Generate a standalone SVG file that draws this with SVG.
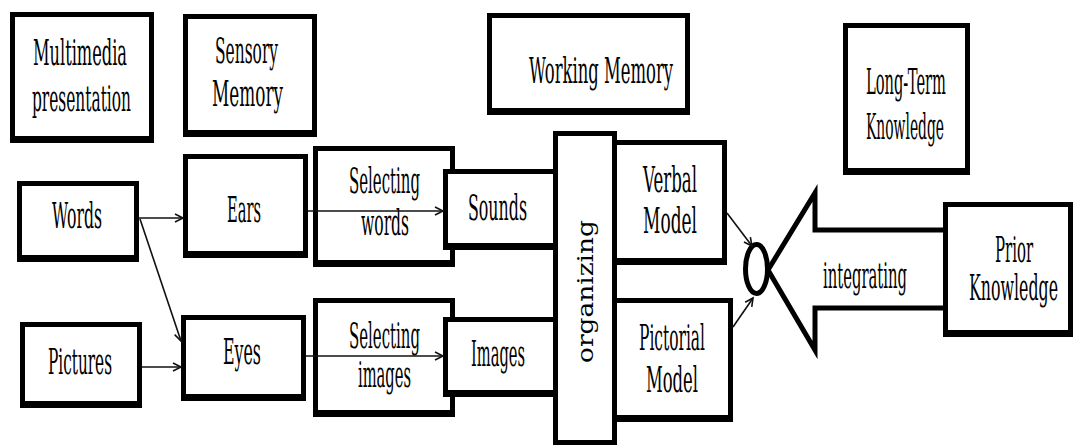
<svg xmlns="http://www.w3.org/2000/svg" width="1073" height="445" viewBox="0 0 1073 445">
  <style>
    .o { fill: #000; }
    .i { fill: #fff; }
    .t { font-family: "DejaVu Serif", "Liberation Serif", serif; font-size: 35px; fill: #000; }
    .ts { font-family: "DejaVu Serif", "Liberation Serif", serif; font-size: 23px; fill: #000; }
    .c { stroke: #111; stroke-width: 1.6; fill: none; }
    .thick { stroke: #000; stroke-width: 5; fill: #fff; stroke-linejoin: miter; }
  </style>
  <defs>
    <marker id="ah" markerUnits="userSpaceOnUse" markerWidth="12" markerHeight="12" refX="9" refY="5" orient="auto" viewBox="0 0 12 10">
      <path d="M1,1 L9,5 L1,9" fill="none" stroke="#111" stroke-width="1.6"/>
    </marker>
  </defs>
  <rect width="1073" height="445" fill="#fff"/>

  <!-- column headings -->
  <g id="multimedia-presentation">
    <rect class="o" x="10" y="12" width="144" height="131"/>
    <rect class="i" x="15" y="17" width="134" height="119"/>
    <text class="t" x="33" y="65" textLength="94" lengthAdjust="spacingAndGlyphs">Multimedia</text>
    <text class="t" x="32" y="111" textLength="99" lengthAdjust="spacingAndGlyphs">presentation</text>
  </g>
  <g id="sensory-memory">
    <rect class="o" x="183" y="14" width="134" height="123"/>
    <rect class="i" x="188" y="19" width="124" height="111"/>
    <text class="t" x="215" y="63" textLength="63" lengthAdjust="spacingAndGlyphs">Sensory</text>
    <text class="t" x="212" y="106" textLength="71" lengthAdjust="spacingAndGlyphs">Memory</text>
  </g>
  <g id="working-memory">
    <rect class="o" x="487" y="13" width="203" height="102"/>
    <rect class="i" x="492" y="18" width="193" height="90"/>
    <text class="t" x="529" y="83" textLength="144" lengthAdjust="spacingAndGlyphs">Working Memory</text>
  </g>
  <g id="long-term-knowledge">
    <rect class="o" x="843" y="23" width="127" height="152"/>
    <rect class="i" x="848" y="28" width="117" height="140"/>
    <text class="t" x="866" y="94" textLength="80" lengthAdjust="spacingAndGlyphs">Long-Term</text>
    <text class="t" x="866" y="139" textLength="78" lengthAdjust="spacingAndGlyphs">Knowledge</text>
  </g>

  <!-- inputs -->
  <g id="words">
    <rect class="o" x="17" y="181" width="122" height="81"/>
    <rect class="i" x="22" y="186" width="112" height="69"/>
    <text class="t" x="52" y="228" textLength="50" lengthAdjust="spacingAndGlyphs">Words</text>
  </g>
  <g id="pictures">
    <rect class="o" x="20" y="322" width="122" height="86"/>
    <rect class="i" x="25" y="327" width="112" height="74"/>
    <text class="t" x="48" y="374" textLength="64" lengthAdjust="spacingAndGlyphs">Pictures</text>
  </g>

  <!-- sensory channels -->
  <g id="ears">
    <rect class="o" x="183" y="154" width="125" height="104"/>
    <rect class="i" x="188" y="159" width="115" height="92"/>
    <text class="t" x="227" y="222" textLength="34" lengthAdjust="spacingAndGlyphs">Ears</text>
  </g>
  <g id="eyes">
    <rect class="o" x="181" y="315" width="125" height="86"/>
    <rect class="i" x="186" y="320" width="115" height="74"/>
    <text class="t" x="223" y="364" textLength="38" lengthAdjust="spacingAndGlyphs">Eyes</text>
  </g>

  <!-- selection -->
  <g id="selecting-words">
    <rect class="o" x="313" y="146" width="142" height="121"/>
    <rect class="i" x="318" y="151" width="132" height="109"/>
    <text class="t" x="349" y="193" textLength="71" lengthAdjust="spacingAndGlyphs">Selecting</text>
    <text class="t" x="361" y="235" textLength="48" lengthAdjust="spacingAndGlyphs">words</text>
  </g>
  <g id="selecting-images">
    <rect class="o" x="313" y="298" width="142" height="119"/>
    <rect class="i" x="318" y="303" width="132" height="107"/>
    <text class="t" x="349" y="348" textLength="71" lengthAdjust="spacingAndGlyphs">Selecting</text>
    <text class="t" x="358" y="387" textLength="53" lengthAdjust="spacingAndGlyphs">images</text>
  </g>

  <!-- organizing column -->
  <g id="organizing">
    <rect class="o" x="553" y="131" width="64" height="314"/>
    <rect class="i" x="558" y="136" width="54" height="304"/>
    <text class="ts" transform="translate(593,363) rotate(-90)" x="0" y="0" textLength="143" lengthAdjust="spacingAndGlyphs">organizing</text>
  </g>
  <g id="sounds">
    <rect class="o" x="443" y="169" width="115" height="81"/>
    <rect class="i" x="448" y="174" width="105" height="69"/>
    <text class="t" x="468" y="220" textLength="59" lengthAdjust="spacingAndGlyphs">Sounds</text>
  </g>
  <g id="images">
    <rect class="o" x="443" y="317" width="115" height="80"/>
    <rect class="i" x="448" y="322" width="105" height="68"/>
    <text class="t" x="471" y="366" textLength="54" lengthAdjust="spacingAndGlyphs">Images</text>
  </g>
  <g id="verbal-model">
    <rect class="o" x="612" y="140" width="115" height="125"/>
    <rect class="i" x="617" y="145" width="105" height="113"/>
    <text class="t" x="643" y="192" textLength="54" lengthAdjust="spacingAndGlyphs">Verbal</text>
    <text class="t" x="643" y="233" textLength="54" lengthAdjust="spacingAndGlyphs">Model</text>
  </g>
  <g id="pictorial-model">
    <rect class="o" x="612" y="298" width="121" height="124"/>
    <rect class="i" x="617" y="303" width="111" height="112"/>
    <text class="t" x="639" y="350" textLength="66" lengthAdjust="spacingAndGlyphs">Pictorial</text>
    <text class="t" x="646" y="392" textLength="52" lengthAdjust="spacingAndGlyphs">Model</text>
  </g>

  <!-- long-term side -->
  <g id="prior-knowledge">
    <rect class="o" x="943" y="202" width="130" height="135"/>
    <rect class="i" x="948" y="207" width="120" height="123"/>
    <text class="t" x="995" y="262" textLength="38" lengthAdjust="spacingAndGlyphs">Prior</text>
    <text class="t" x="969" y="300" textLength="89" lengthAdjust="spacingAndGlyphs">Knowledge</text>
  </g>
  <g id="integrating">
    <polyline class="thick" points="943,230 815,230 815,193 768,270 815,350 815,308 943,308"/>
    <ellipse cx="756.5" cy="269" rx="11" ry="24.5" fill="#fff" stroke="#000" stroke-width="5"/>
    <text class="t" x="823" y="288" textLength="84" lengthAdjust="spacingAndGlyphs">integrating</text>
  </g>

  <!-- connectors -->
  <g id="connectors">
    <line class="c" x1="139" y1="218" x2="183" y2="218" marker-end="url(#ah)"/>
    <line class="c" x1="140" y1="219" x2="181" y2="341" marker-end="url(#ah)"/>
    <line class="c" x1="142" y1="367" x2="181" y2="367" marker-end="url(#ah)"/>
    <line class="c" x1="308" y1="211" x2="443" y2="211" marker-end="url(#ah)"/>
    <line class="c" x1="306" y1="356" x2="443" y2="356" marker-end="url(#ah)"/>
    <line class="c" x1="727" y1="213" x2="752" y2="246" marker-end="url(#ah)"/>
    <line class="c" x1="733" y1="327" x2="753" y2="298" marker-end="url(#ah)"/>
  </g>
</svg>
